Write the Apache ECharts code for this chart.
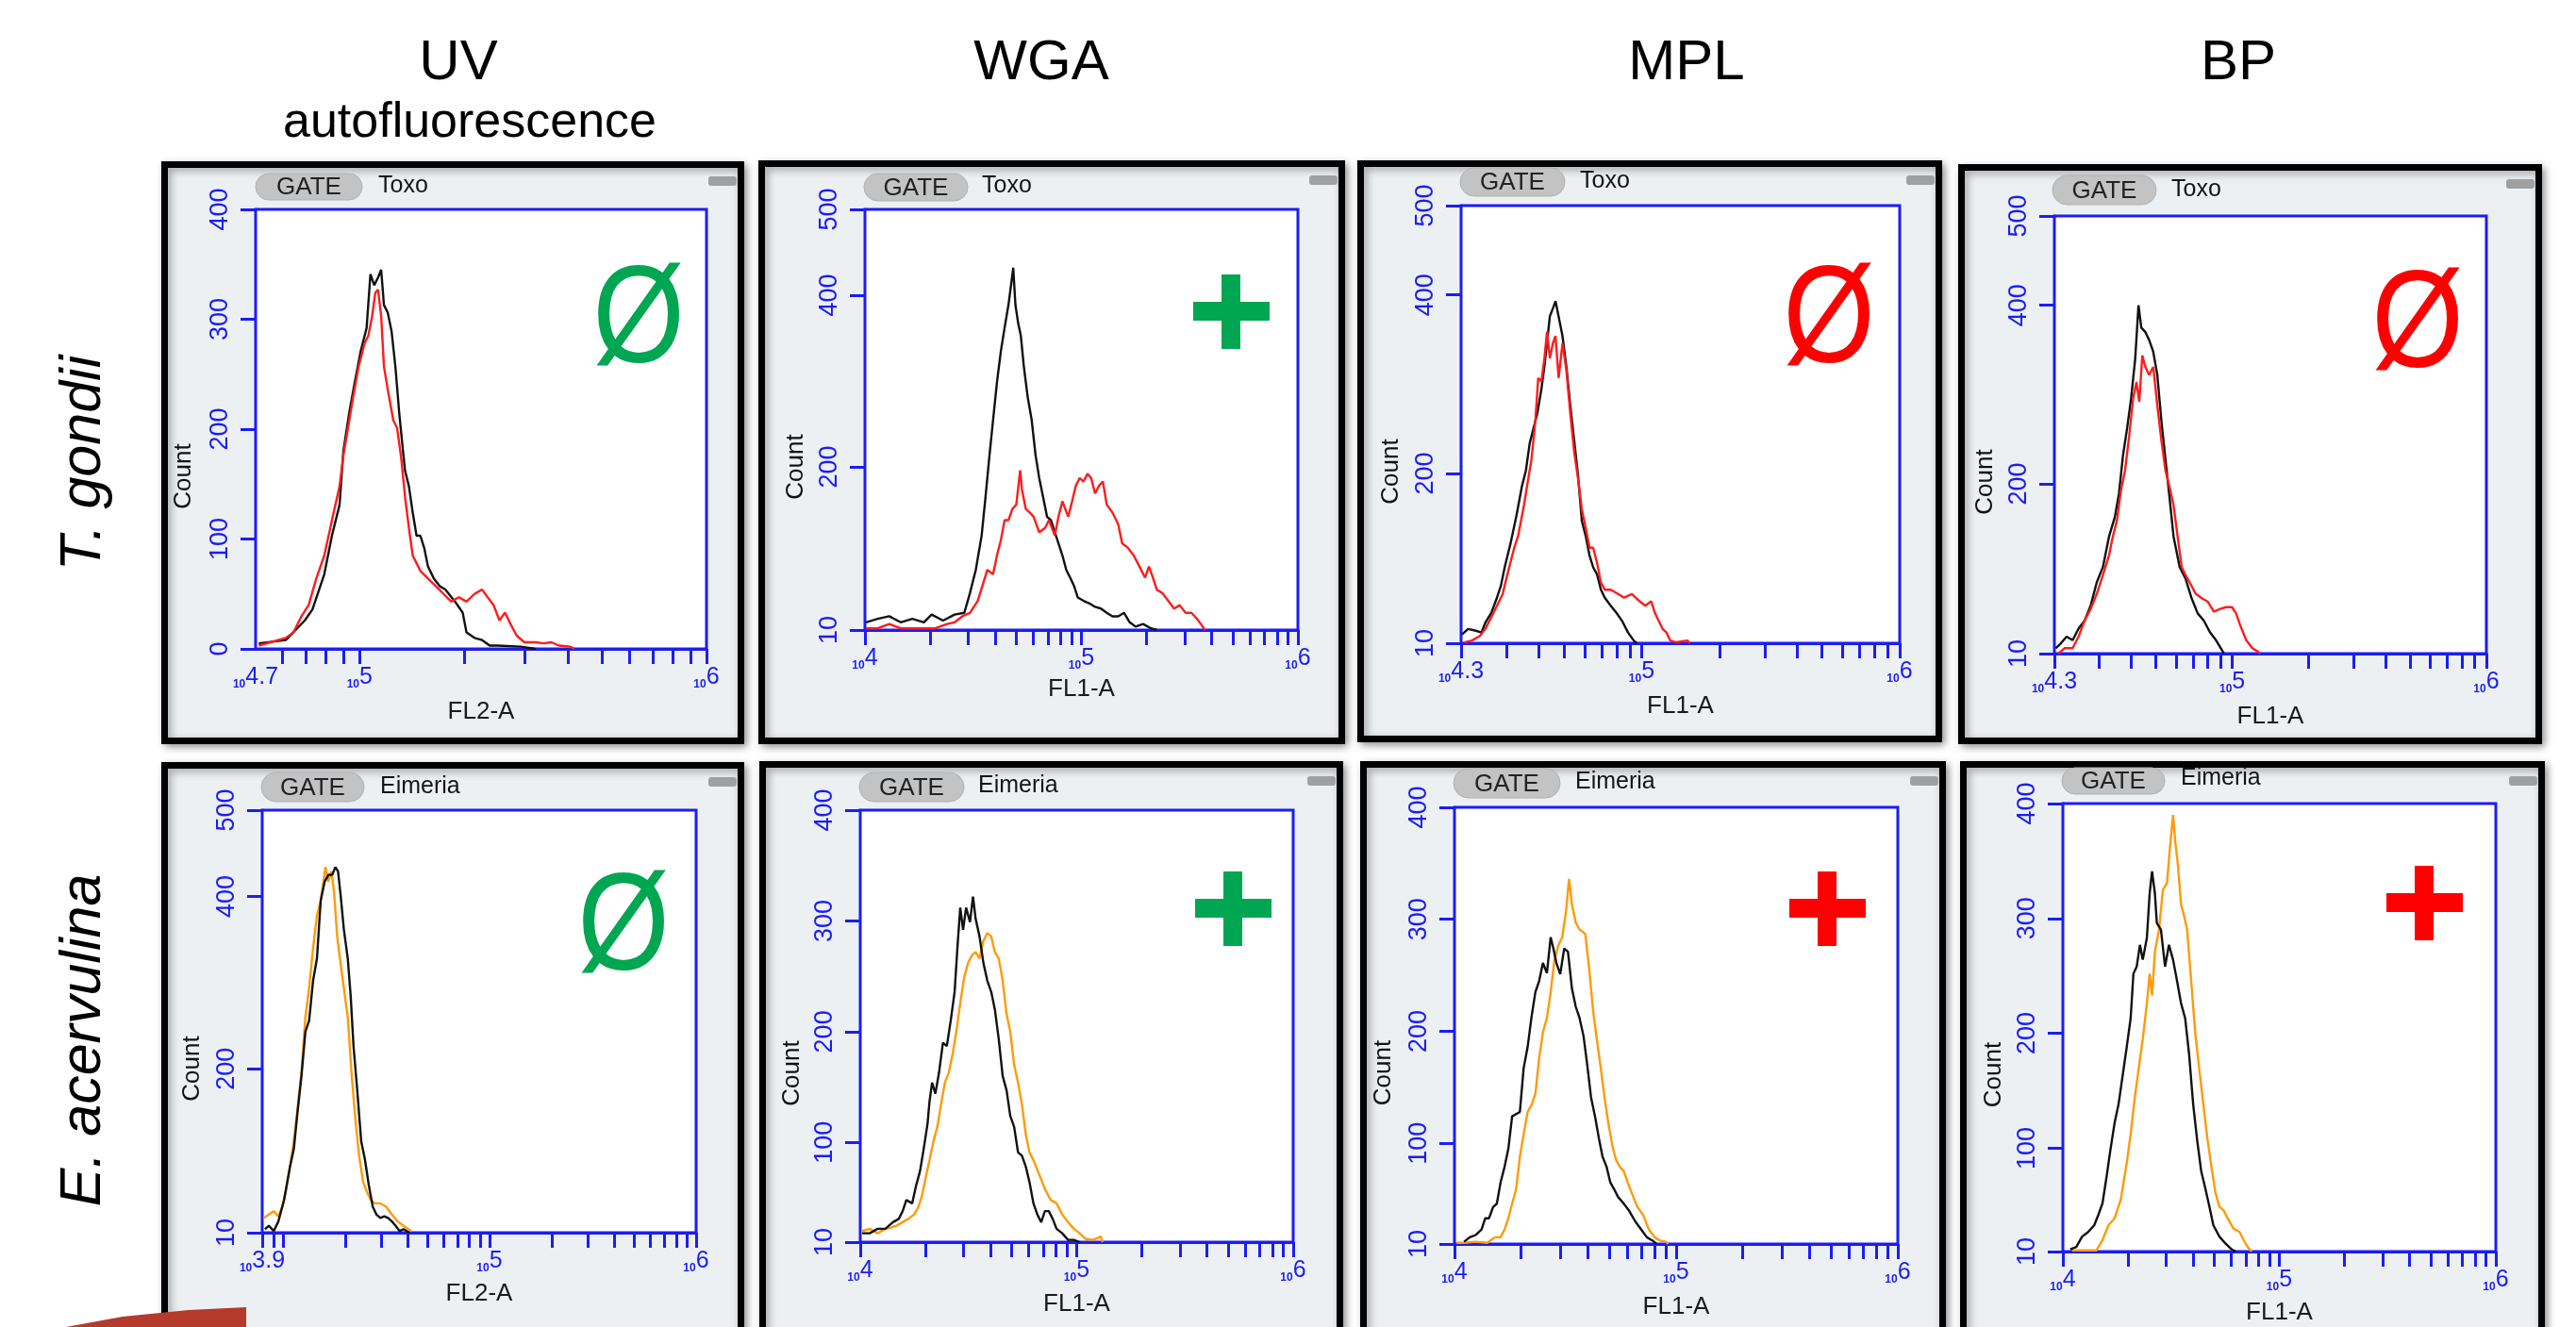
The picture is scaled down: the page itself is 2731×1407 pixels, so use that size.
<!DOCTYPE html>
<html>
<head>
<meta charset="utf-8">
<script src="https://cdn.jsdelivr.net/npm/echarts@6/dist/echarts.min.js"></script>
<style>
html,body{margin:0;padding:0;background:#ffffff;}
#chart{width:2731px;height:1407px;}
</style>
</head>
<body>
<div id="chart"></div>
<script>
// ---------------- DATA (x = log10 of fluorescence, y = count) ----------------
const columnTitles = ['UV', 'WGA', 'MPL', 'BP'];
const columnSubtitle = 'autofluorescence';
const rowTitles = ['T. gondii', 'E. acervulina'];
const gateNames = ['Toxo', 'Eimeria'];
const xAxisNames = ['FL2-A', 'FL1-A', 'FL1-A', 'FL1-A', 'FL2-A', 'FL1-A', 'FL1-A', 'FL1-A'];
const xRanges = [[4.7, 6], [4, 6], [4.3, 6], [4.3, 6], [3.9, 6], [4, 6], [4, 6], [4, 6]];
const xLabelValues = [[4.7, 5, 6], [4, 5, 6], [4.3, 5, 6], [4.3, 5, 6], [3.9, 5, 6], [4, 5, 6], [4, 5, 6], [4, 5, 6]];
const yRanges = [[0, 400], [10, 500], [10, 500], [10, 500], [10, 500], [10, 400], [10, 400], [10, 400]];
const yLabelValues = [[0, 100, 200, 300, 400], [10, 200, 400, 500], [10, 200, 400, 500], [10, 200, 400, 500],
  [10, 200, 400, 500], [10, 100, 200, 300, 400], [10, 100, 200, 300, 400], [10, 100, 200, 300, 400]];
const verdicts = ['Ø', '+', 'Ø', 'Ø', 'Ø', '+', '+', '+'];
const verdictPositive = [false, true, false, false, false, true, true, true];
const verdictGood = [true, true, false, false, true, true, false, false];

const toxoUV_black = [[4.709,5],[4.787,8],[4.842,26],[4.864,36],[4.898,68],[4.920,103],[4.942,131],[4.953,180],[4.970,215],[4.986,243],[5.003,271],[5.020,292],[5.031,341],[5.042,331],[5.053,338],[5.062,345],[5.070,313],[5.081,306],[5.092,289],[5.103,257],[5.114,215],[5.125,180],[5.131,162],[5.142,148],[5.153,124],[5.164,103],[5.175,103],[5.186,92],[5.197,75],[5.214,64],[5.231,57],[5.247,54],[5.275,43],[5.297,33],[5.308,15],[5.331,10],[5.353,8],[5.375,3],[5.397,3],[5.464,2],[5.508,0]];
const toxoUV_red = [[4.709,3],[4.787,10],[4.809,15],[4.831,29],[4.853,40],[4.875,64],[4.898,85],[4.920,117],[4.942,148],[4.953,176],[4.970,208],[4.981,229],[4.997,257],[5.014,278],[5.025,285],[5.036,303],[5.045,324],[5.053,327],[5.062,303],[5.070,257],[5.081,236],[5.097,208],[5.108,201],[5.120,173],[5.131,138],[5.142,110],[5.153,85],[5.164,78],[5.175,71],[5.197,64],[5.220,57],[5.242,50],[5.264,43],[5.286,47],[5.308,43],[5.331,50],[5.353,54],[5.369,47],[5.386,40],[5.403,26],[5.419,33],[5.436,22],[5.453,12],[5.475,6],[5.508,6],[5.530,5],[5.553,6],[5.575,3],[5.608,2],[5.619,0]];
const toxoWGA_black = [[4.005,19],[4.059,23],[4.112,26],[4.165,19],[4.219,23],[4.272,19],[4.308,28],[4.361,21],[4.414,28],[4.459,30],[4.485,53],[4.512,80],[4.539,120],[4.557,165],[4.574,210],[4.592,255],[4.610,299],[4.628,335],[4.645,362],[4.663,389],[4.676,414],[4.685,432],[4.695,389],[4.708,367],[4.720,353],[4.734,317],[4.752,281],[4.770,255],[4.788,214],[4.805,187],[4.823,165],[4.841,142],[4.859,138],[4.877,124],[4.894,111],[4.912,97],[4.930,80],[4.948,71],[4.965,62],[4.983,48],[5.010,44],[5.037,41],[5.063,37],[5.090,35],[5.117,30],[5.143,26],[5.170,26],[5.197,30],[5.223,19],[5.250,14],[5.285,17],[5.321,12],[5.348,10]];
const toxoWGA_red = [[4.005,12],[4.059,12],[4.112,17],[4.165,12],[4.219,12],[4.272,12],[4.325,12],[4.379,17],[4.414,19],[4.450,26],[4.485,30],[4.521,44],[4.548,66],[4.565,80],[4.592,75],[4.610,97],[4.628,115],[4.645,138],[4.663,138],[4.681,151],[4.699,156],[4.717,196],[4.725,174],[4.743,151],[4.761,147],[4.779,142],[4.805,124],[4.832,129],[4.850,138],[4.877,120],[4.894,142],[4.912,160],[4.939,142],[4.957,160],[4.974,178],[4.992,187],[5.010,183],[5.028,192],[5.045,187],[5.063,169],[5.081,178],[5.099,183],[5.117,156],[5.143,147],[5.170,133],[5.188,111],[5.214,106],[5.241,97],[5.268,84],[5.294,71],[5.312,84],[5.330,71],[5.348,57],[5.374,53],[5.401,44],[5.428,35],[5.454,39],[5.481,30],[5.508,30],[5.534,23],[5.552,17],[5.570,10]];
const toxoMPL_black = [[4.304,20],[4.327,26],[4.357,24],[4.379,22],[4.394,33],[4.417,44],[4.439,61],[4.454,74],[4.469,95],[4.491,121],[4.514,152],[4.536,186],[4.551,203],[4.566,234],[4.581,251],[4.596,268],[4.611,294],[4.623,320],[4.633,346],[4.644,376],[4.656,385],[4.666,393],[4.678,376],[4.693,354],[4.708,320],[4.723,277],[4.738,238],[4.753,199],[4.768,147],[4.783,130],[4.798,108],[4.812,95],[4.827,87],[4.842,70],[4.857,61],[4.880,52],[4.902,44],[4.924,35],[4.947,22],[4.969,13],[4.981,10]];
const toxoMPL_red = [[4.312,11],[4.342,13],[4.372,18],[4.394,26],[4.417,39],[4.439,52],[4.461,65],[4.476,83],[4.491,100],[4.506,117],[4.521,130],[4.544,165],[4.558,190],[4.573,216],[4.588,260],[4.599,307],[4.611,303],[4.623,329],[4.633,359],[4.644,329],[4.656,346],[4.666,354],[4.678,307],[4.693,346],[4.708,316],[4.723,268],[4.738,225],[4.753,195],[4.768,160],[4.783,139],[4.798,117],[4.812,117],[4.827,100],[4.842,78],[4.857,70],[4.880,70],[4.910,65],[4.932,61],[4.962,65],[4.992,57],[5.014,52],[5.037,57],[5.051,44],[5.066,35],[5.081,26],[5.096,22],[5.111,13],[5.134,11],[5.178,13],[5.186,10]];
const toxoBP_black = [[4.305,16],[4.324,21],[4.348,29],[4.372,25],[4.395,38],[4.419,47],[4.443,64],[4.467,90],[4.491,107],[4.515,141],[4.538,163],[4.554,189],[4.570,232],[4.586,262],[4.602,296],[4.618,340],[4.631,400],[4.642,375],[4.658,370],[4.673,361],[4.689,348],[4.705,322],[4.721,271],[4.737,228],[4.753,185],[4.769,141],[4.793,107],[4.816,94],[4.840,72],[4.864,55],[4.888,47],[4.912,34],[4.936,25],[4.959,14],[4.967,10]];
const toxoBP_red = [[4.316,10],[4.340,16],[4.372,16],[4.395,29],[4.419,47],[4.443,60],[4.467,77],[4.491,98],[4.515,120],[4.530,141],[4.546,159],[4.562,193],[4.578,215],[4.594,253],[4.610,296],[4.623,314],[4.634,292],[4.646,344],[4.658,331],[4.673,322],[4.689,331],[4.705,288],[4.721,249],[4.737,215],[4.753,197],[4.769,176],[4.785,141],[4.801,107],[4.816,98],[4.832,90],[4.856,77],[4.880,72],[4.904,68],[4.928,57],[4.952,60],[4.975,62],[4.999,62],[5.015,55],[5.031,42],[5.055,25],[5.079,16],[5.102,12],[5.110,10]];
const eimUV_black = [[3.913,14],[3.932,18],[3.956,12],[3.978,23],[4.006,48],[4.034,86],[4.053,107],[4.071,150],[4.090,192],[4.109,243],[4.127,256],[4.146,302],[4.165,328],[4.183,395],[4.202,417],[4.220,425],[4.239,425],[4.254,434],[4.267,429],[4.280,400],[4.295,362],[4.314,328],[4.328,285],[4.342,226],[4.360,175],[4.379,116],[4.397,95],[4.416,65],[4.435,40],[4.453,31],[4.472,27],[4.491,29],[4.509,27],[4.528,23],[4.546,18],[4.565,12],[4.584,14],[4.612,10]];
const eimUV_orange = [[3.907,27],[3.932,31],[3.956,35],[3.978,29],[3.997,40],[4.016,61],[4.034,86],[4.053,116],[4.071,154],[4.090,196],[4.109,260],[4.127,294],[4.146,340],[4.165,378],[4.183,395],[4.206,434],[4.220,417],[4.235,429],[4.248,404],[4.263,353],[4.276,328],[4.295,294],[4.314,260],[4.332,196],[4.351,141],[4.369,99],[4.388,69],[4.407,57],[4.425,48],[4.444,44],[4.472,44],[4.500,40],[4.528,31],[4.556,23],[4.584,18],[4.621,12]];
const eimWGA_black = [[4.009,18],[4.044,18],[4.080,22],[4.116,22],[4.151,28],[4.178,31],[4.196,38],[4.213,48],[4.240,45],[4.258,61],[4.276,74],[4.293,94],[4.311,117],[4.320,137],[4.332,154],[4.347,144],[4.364,163],[4.382,190],[4.400,187],[4.418,210],[4.436,236],[4.450,279],[4.462,312],[4.475,292],[4.489,312],[4.507,299],[4.521,322],[4.533,302],[4.551,286],[4.569,262],[4.587,246],[4.605,236],[4.622,220],[4.640,193],[4.658,160],[4.676,147],[4.693,124],[4.711,114],[4.729,91],[4.747,88],[4.765,78],[4.782,64],[4.800,45],[4.818,35],[4.836,28],[4.853,38],[4.871,38],[4.889,31],[4.907,22],[4.933,18],[4.960,12],[4.987,12],[5.013,10]];
const eimWGA_orange = [[4.009,20],[4.044,22],[4.080,18],[4.116,22],[4.142,23],[4.169,25],[4.196,28],[4.222,31],[4.249,35],[4.267,41],[4.284,51],[4.302,68],[4.320,84],[4.338,101],[4.356,114],[4.373,134],[4.391,154],[4.409,163],[4.427,180],[4.444,200],[4.462,226],[4.480,249],[4.498,262],[4.516,269],[4.533,272],[4.551,266],[4.569,282],[4.587,289],[4.605,286],[4.622,272],[4.640,266],[4.658,246],[4.676,216],[4.693,200],[4.711,170],[4.729,154],[4.747,134],[4.765,107],[4.782,91],[4.800,84],[4.827,71],[4.853,58],[4.880,48],[4.907,45],[4.933,35],[4.960,28],[4.987,22],[5.013,18],[5.040,13],[5.076,12],[5.111,15],[5.120,10]];
const eimMPL_black = [[4.043,12],[4.069,16],[4.095,18],[4.122,23],[4.139,33],[4.156,33],[4.174,43],[4.191,46],[4.208,65],[4.226,79],[4.243,95],[4.260,124],[4.278,126],[4.295,128],[4.312,167],[4.330,186],[4.347,212],[4.365,235],[4.382,245],[4.399,261],[4.417,252],[4.434,284],[4.446,274],[4.460,261],[4.477,251],[4.495,274],[4.512,271],[4.530,238],[4.547,222],[4.564,212],[4.582,196],[4.599,170],[4.616,141],[4.634,124],[4.651,105],[4.668,88],[4.686,79],[4.703,65],[4.720,59],[4.738,52],[4.764,46],[4.790,39],[4.816,30],[4.842,23],[4.868,16],[4.894,13],[4.911,10]];
const eimMPL_orange = [[4.009,11],[4.043,11],[4.095,12],[4.148,11],[4.182,16],[4.208,16],[4.226,23],[4.243,33],[4.260,46],[4.278,59],[4.295,88],[4.312,108],[4.330,128],[4.347,134],[4.365,144],[4.382,176],[4.399,199],[4.417,212],[4.434,235],[4.451,264],[4.469,277],[4.486,284],[4.503,307],[4.517,336],[4.530,313],[4.547,297],[4.564,291],[4.590,287],[4.608,255],[4.625,219],[4.642,193],[4.660,167],[4.677,141],[4.694,118],[4.712,98],[4.729,85],[4.746,79],[4.764,75],[4.781,65],[4.799,56],[4.825,43],[4.851,36],[4.877,23],[4.903,16],[4.929,13],[4.955,12],[4.963,10]];
const eimBP_black = [[4.034,12],[4.062,14],[4.089,23],[4.117,27],[4.145,33],[4.164,42],[4.183,52],[4.201,74],[4.220,99],[4.239,122],[4.257,138],[4.276,163],[4.295,188],[4.313,213],[4.326,252],[4.341,258],[4.356,277],[4.369,264],[4.388,283],[4.401,322],[4.412,341],[4.425,322],[4.434,296],[4.453,290],[4.472,258],[4.490,277],[4.509,264],[4.528,245],[4.546,226],[4.565,213],[4.583,182],[4.602,138],[4.621,106],[4.639,80],[4.658,65],[4.677,49],[4.695,33],[4.723,23],[4.751,17],[4.779,12],[4.798,10]];
const eimBP_orange = [[4.043,11],[4.080,11],[4.117,11],[4.155,11],[4.183,20],[4.211,33],[4.239,39],[4.267,55],[4.295,87],[4.313,112],[4.332,144],[4.350,169],[4.369,195],[4.388,226],[4.401,252],[4.412,233],[4.425,271],[4.444,290],[4.462,325],[4.481,331],[4.494,360],[4.509,390],[4.518,369],[4.531,347],[4.546,312],[4.559,303],[4.574,290],[4.593,245],[4.611,201],[4.630,169],[4.649,138],[4.667,109],[4.686,84],[4.705,61],[4.723,49],[4.742,46],[4.761,39],[4.788,30],[4.816,27],[4.835,20],[4.854,14],[4.872,10]];

const controlCurves = [toxoUV_black, toxoWGA_black, toxoMPL_black, toxoBP_black, eimUV_black, eimWGA_black, eimMPL_black, eimBP_black];
const stainedCurves = [toxoUV_red, toxoWGA_red, toxoMPL_red, toxoBP_red, eimUV_orange, eimWGA_orange, eimMPL_orange, eimBP_orange];

// ---------------- LAYOUT / STYLE ----------------
const BLUE = '#1c1cf6';
const GREEN = '#00a651';
const RED = '#ff0000';
const FONT = '"Liberation Sans", Arial, sans-serif';
const NARROW = '"Liberation Sans Narrow", "Liberation Sans", Arial, sans-serif';
const stainColors = ['#ff1c1c', '#ff1c1c', '#ff1c1c', '#ff1c1c', '#ff9a0a', '#ff9a0a', '#ff9a0a', '#ff9a0a'];

const plots = [
  {l: 271, t: 222, w: 478, h: 466}, {l: 917, t: 222, w: 459, h: 446},
  {l: 1549, t: 218, w: 465, h: 464}, {l: 2178, t: 229, w: 458, h: 464},
  {l: 278, t: 859, w: 460, h: 448}, {l: 912, t: 859, w: 459, h: 458},
  {l: 1542, t: 856, w: 470, h: 463}, {l: 2187, t: 852, w: 459, h: 475}
];
const frames = [[171, 171, 618, 618], [804, 170, 622, 619], [1439, 170, 620, 617], [2076, 174, 619, 615],
  [171, 808, 618, 640], [805, 807, 619, 640], [1442, 807, 621, 640], [2078, 807, 620, 640]];
const pills = [[271, 184, 113, 28], [916, 184, 110, 29], [1548, 178, 111, 30], [2176, 186, 110, 31],
  [277, 819, 109, 31], [911, 819, 111, 31], [1541, 815, 113, 31], [2186, 814, 109, 28]];
const gateTextPos = [[401, 197], [1041, 197], [1675, 192], [2302, 201], [403, 834], [1037, 833], [1670, 829], [2312, 825]];
const markPos = [[677, 332], [1305, 330], [1939, 332], [2563, 337], [661, 976], [1307, 963], [1937, 963], [2570, 957]];
const xNameGaps = [54, 50, 54, 54, 52, 53, 54, 52];
const yNameGaps = [63, 60, 61, 60, 61, 59, 62, 60];
const colCenters = [486, 1104, 1788, 2373];

function minorTicks(i) {
  const lo = xRanges[i][0], hi = xRanges[i][1];
  const out = [];
  for (let n = Math.floor(lo); n <= Math.ceil(hi); n++) {
    for (let k = 1; k <= 9; k++) {
      const v = n + Math.log10(k);
      if (v >= lo - 1e-9 && v <= hi + 1e-9) out.push(v);
    }
  }
  return out;
}

const grids = [], xAxes = [], yAxes = [], series = [], graphics = [];

plots.forEach((p, i) => {
  grids.push({left: p.l, top: p.t, width: p.w, height: p.h, show: true, backgroundColor: '#ffffff',
    borderColor: BLUE, borderWidth: 3, z: 1});
  xAxes.push({
    gridIndex: i, type: 'value', min: xRanges[i][0], max: xRanges[i][1],
    name: xAxisNames[i], nameLocation: 'middle', nameGap: xNameGaps[i],
    nameTextStyle: {color: '#1a1a1a', fontSize: 26, fontFamily: FONT},
    axisLine: {show: true, onZero: false, lineStyle: {color: BLUE, width: 3}},
    axisTick: {show: true, inside: false, length: 16, customValues: minorTicks(i), lineStyle: {color: BLUE, width: 3}},
    axisLabel: {
      customValues: xLabelValues[i], margin: 18,
      formatter: v => '{s|10}{b|' + (Math.round(v * 10) / 10) + '}',
      rich: {
        s: {fontSize: 12, fontWeight: 'bold', color: BLUE, fontFamily: FONT, verticalAlign: 'bottom', lineHeight: 13},
        b: {fontSize: 25, color: BLUE, fontFamily: NARROW, verticalAlign: 'top', lineHeight: 26}
      }
    },
    splitLine: {show: false}
  });
  yAxes.push({
    gridIndex: i, type: 'value', min: yRanges[i][0], max: yRanges[i][1],
    name: 'Count', nameLocation: 'middle', nameGap: yNameGaps[i],
    nameTextStyle: {color: '#111111', fontSize: 26, fontFamily: FONT, padding: [0, 100, 0, 0]},
    axisLine: {show: true, onZero: false, lineStyle: {color: BLUE, width: 3}},
    axisTick: {show: true, inside: false, length: 16, customValues: yLabelValues[i], lineStyle: {color: BLUE, width: 3}},
    axisLabel: {customValues: yLabelValues[i], rotate: 90, margin: 24, color: BLUE, fontSize: 27, fontFamily: NARROW},
    splitLine: {show: false}
  });
  const row2 = i >= 4;
  const ctrl = {type: 'line', name: 'control', xAxisIndex: i, yAxisIndex: i, data: controlCurves[i], showSymbol: false,
    symbol: 'none', lineStyle: {color: '#111111', width: 2.4}, itemStyle: {color: '#111111'}, silent: true, z: row2 ? 4 : 3};
  const stain = {type: 'line', name: 'stained', xAxisIndex: i, yAxisIndex: i, data: stainedCurves[i], showSymbol: false,
    symbol: 'none', lineStyle: {color: stainColors[i], width: 2.4}, itemStyle: {color: stainColors[i]}, silent: true, z: row2 ? 3 : 4};
  series.push(ctrl, stain);

  // panel frame
  const f = frames[i];
  graphics.push({type: 'rect', z: -10, shape: {x: f[0] + 3.5, y: f[1] + 3.5, width: f[2] - 7, height: f[3] - 7},
    style: {fill: '#ecf0f3', stroke: '#000000', lineWidth: 7, shadowBlur: 8, shadowColor: 'rgba(0,0,0,0.35)', shadowOffsetX: 3, shadowOffsetY: 3}});
  // scroll-bar nub
  graphics.push({type: 'rect', z: 5, shape: {x: f[0] + f[2] - 38, y: f[1] + 16, width: 30, height: 10, r: 3},
    style: {fill: '#a0a0a0'}});
  // GATE pill + gate name
  const pl = pills[i];
  graphics.push({type: 'rect', z: 5, shape: {x: pl[0], y: pl[1], width: pl[2], height: pl[3], r: pl[3] / 2},
    style: {fill: '#c3c3c3', stroke: '#b0b0b0', lineWidth: 1}});
  graphics.push({type: 'text', z: 6, style: {text: 'GATE', x: pl[0] + pl[2] / 2, y: pl[1] + pl[3] / 2 + 1,
    textAlign: 'center', textVerticalAlign: 'middle', font: '26px ' + FONT, fill: '#222222'}});
  graphics.push({type: 'text', z: 6, style: {text: gateNames[row2 ? 1 : 0], x: gateTextPos[i][0], y: gateTextPos[i][1],
    textAlign: 'left', textVerticalAlign: 'middle', font: '25px ' + FONT, fill: '#141414'}});
  // verdict mark
  const col = verdictGood[i] ? GREEN : RED;
  const m = markPos[i];
  if (verdictPositive[i]) {
    graphics.push({type: 'rect', z: 10, shape: {x: m[0] - 40, y: m[1] - 10, width: 81, height: 20}, style: {fill: col}});
    graphics.push({type: 'rect', z: 10, shape: {x: m[0] - 10, y: m[1] - 39, width: 20, height: 79}, style: {fill: col}});
  } else {
    graphics.push({type: 'text', z: 10, x: m[0], y: m[1] + 12, scaleX: 0.86, scaleY: 1,
      style: {text: verdicts[i], x: 0, y: 0, textAlign: 'center',
      textVerticalAlign: 'middle', font: '146px ' + FONT, fill: col}});
  }
});

// column titles
columnTitles.forEach((t, j) => {
  graphics.push({type: 'text', z: 10, style: {text: t, x: colCenters[j], y: 67, textAlign: 'center',
    textVerticalAlign: 'middle', font: '60px ' + FONT, fill: '#000000'}});
});
graphics.push({type: 'text', z: 10, style: {text: columnSubtitle, x: 498, y: 131, textAlign: 'center',
  textVerticalAlign: 'middle', font: '52px ' + FONT, fill: '#000000'}});
// row titles
[491, 1103].forEach((cy, r) => {
  graphics.push({type: 'text', z: 10, x: 89, y: cy, rotation: Math.PI / 2, style: {text: rowTitles[r], x: 0, y: 0,
    textAlign: 'center', textVerticalAlign: 'middle', font: 'italic 61px ' + FONT, fill: '#000000'}});
});
// decorative ribbon at bottom-left
graphics.push({type: 'polygon', z: 12, shape: {points: [[70, 1407], [130, 1396], [200, 1389], [261, 1386], [261, 1407]]},
  style: {fill: '#b43a2c'}});

const chart = echarts.init(document.getElementById('chart'), null, {renderer: 'canvas', width: 2731, height: 1407});
chart.setOption({
  backgroundColor: '#ffffff',
  animation: false,
  grid: grids,
  xAxis: xAxes,
  yAxis: yAxes,
  series: series,
  graphic: {elements: graphics}
});
</script>
</body>
</html>
